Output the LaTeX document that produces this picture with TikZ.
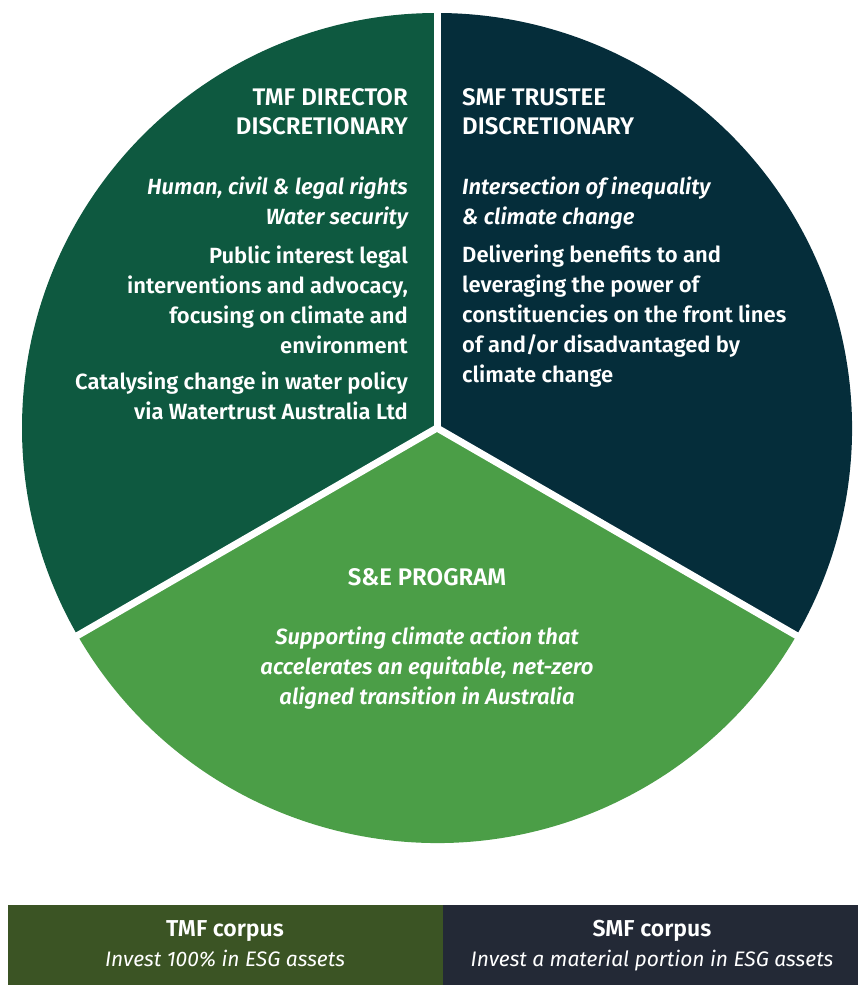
\documentclass[tikz,border=0pt]{standalone}
\usepackage{fontspec}
\setmainfont[BoldFont={Fira Sans SemiBold},BoldItalicFont={Fira Sans SemiBold Italic}]{Fira Sans}
\usetikzlibrary{positioning}
\definecolor{tmfgreen}{HTML}{0E5940}
\definecolor{smfnavy}{HTML}{052D3A}
\definecolor{segreen}{HTML}{4B9E47}
\definecolor{tmfolive}{HTML}{3B5424}
\definecolor{smfslate}{HTML}{232936}
\tikzset{
  gap/.style={draw=white,line width=7pt},
  txt/.style={text=white,inner sep=0pt},
  head/.style={txt,font=\fontsize{24}{29}\selectfont\bfseries},
  focus/.style={txt,font=\fontsize{22}{30}\selectfont\bfseries\itshape},
  body/.style={txt,font=\fontsize{22}{30}\selectfont\bfseries},
  corpus/.style={txt,font=\fontsize{23}{28}\selectfont\bfseries},
  invest/.style={txt,font=\fontsize{21}{28}\selectfont\itshape}
}

\begin{document}
\begin{tikzpicture}[x=1pt,y=1pt]
\useasboundingbox (0,0) rectangle (858,985);
\coordinate (O) at (437,557);
% pie
\fill[tmfgreen] (O) -- ++(90:415) arc[start angle=90,end angle=210,radius=415] -- cycle;
\fill[segreen] (O) -- ++(210:415) arc[start angle=210,end angle=330,radius=415] -- cycle;
\fill[smfnavy] (O) -- ++(330:415) arc[start angle=330,end angle=450,radius=415] -- cycle;
\foreach \a in {90,210,330}
  \draw[gap] (O) -- ++(\a:425);
% TMF slice (base = last line)
\node[head,align=right,anchor=base east] (tmfHead) at (408,850) {TMF DIRECTOR\\DISCRETIONARY};
\node[focus,align=right,anchor=base east] (tmfFocus) at (408,760) {Human, civil \& legal rights\\Water security};
\node[body,align=right,anchor=base east] (tmfLegal) at (408,631) {Public interest legal\\interventions and advocacy,\\focusing on climate and\\environment};
\node[body,align=right,anchor=base east] (tmfWater) at (408,565) {Catalysing change in water policy\\via Watertrust Australia Ltd};
% SMF slice
\node[head,align=left,anchor=base west] (smfHead) at (462,850) {SMF TRUSTEE\\DISCRETIONARY};
\node[focus,align=left,anchor=base west] (smfFocus) at (462,760) {Intersection of inequality\\\& climate change};
\node[body,align=left,anchor=base west] (smfBody) at (462,602) {Delivering benefits to and\\leveraging the power of\\constituencies on the front lines\\of and/or disadvantaged by\\climate change};
% S&E slice
\node[head,anchor=base] (seHead) at (427,399) {S\&E PROGRAM};
\node[focus,align=center,anchor=base] (seFocus) at (427,280) {Supporting climate action that\\accelerates an equitable, net-zero\\aligned transition in Australia};
% corpus bar
\fill[tmfolive] (8,0) rectangle (443,80);
\fill[smfslate] (443,0) rectangle (858,80);
\node[corpus,anchor=base] (tmfCorpus) at (225,48) {TMF corpus};
\node[invest,anchor=base] (tmfInvest) at (225,19) {Invest 100\% in ESG assets};
\node[corpus,anchor=base] (smfCorpus) at (652,48) {SMF corpus};
\node[invest,anchor=base] (smfInvest) at (652,19) {Invest a material portion in ESG assets};
\end{tikzpicture}
\end{document}
